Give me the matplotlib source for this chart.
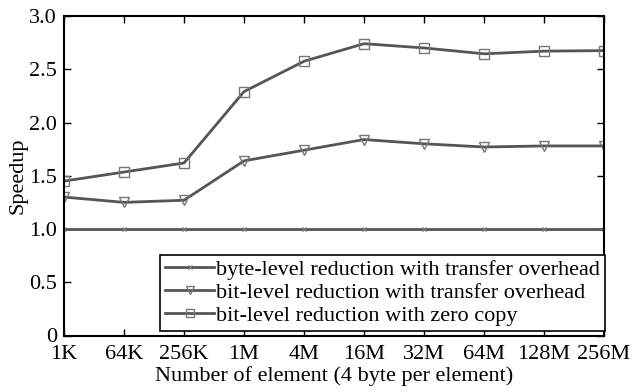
import matplotlib
matplotlib.use('Agg')
import matplotlib.pyplot as plt

sizes = ['1K', '64K', '256K', '1M', '4M', '16M', '32M', '64M', '128M', '256M']
byte_transfer = [1.0, 1.0, 1.0, 1.0, 1.0, 1.0, 1.0, 1.0, 1.0, 1.0]
bit_transfer = [1.30, 1.25, 1.27, 1.64, 1.74, 1.84, 1.80, 1.77, 1.78, 1.78]
bit_zerocopy = [1.45, 1.535, 1.62, 2.29, 2.575, 2.74, 2.70, 2.645, 2.67, 2.675]

plt.rcParams['font.family'] = ['Liberation Serif', 'DejaVu Serif']
plt.rcParams['font.size'] = 16

fig = plt.figure(figsize=(6.32, 3.92), dpi=100)
ax = fig.add_axes([64 / 632, 1 - 335.5 / 392, 540 / 632, 319.5 / 392])

x = range(len(sizes))
col = '#555555'
ax.plot(x, byte_transfer, color=col, lw=2, marker='x', ms=3, mec='#777777',
        label='byte-level reduction with transfer overhead')
ax.plot(x, bit_transfer, color=col, lw=2, marker='v', ms=7, mfc='none', mec='#777777',
        label='bit-level reduction with transfer overhead')
ax.plot(x, bit_zerocopy, color=col, lw=2, marker='s', ms=7, mfc='none', mec='#777777',
        label='bit-level reduction with zero copy')

ax.set_xlim(0, len(sizes) - 1)
ax.set_ylim(0, 3.0)
ax.set_xticks(list(x))
ax.set_xticklabels(sizes)
ax.set_yticks([0, 0.5, 1.0, 1.5, 2.0, 2.5, 3.0])
ax.set_yticklabels(['0', '0.5', '1.0', '1.5', '2.0', '2.5', '3.0'])
ax.tick_params(direction='in', top=True, right=True, length=5, width=1)
ax.tick_params(axis='x', pad=7)
ax.tick_params(axis='y', pad=5)
for s in ax.spines.values():
    s.set_linewidth(1.5)

ax.set_xlabel('Number of element (4 byte per element)', labelpad=1)
ax.set_ylabel('Speedup', labelpad=1)

leg = ax.legend(loc='lower right', bbox_to_anchor=(1.002, 0.015), frameon=True, fancybox=False,
                edgecolor='black', framealpha=1, handlelength=2.2, handletextpad=0.1,
                borderpad=0.22, labelspacing=0.1, borderaxespad=0, fontsize=16,
                markerscale=0.75)
leg.get_frame().set_linewidth(1.2)

fig.savefig('out.png', dpi=100)
